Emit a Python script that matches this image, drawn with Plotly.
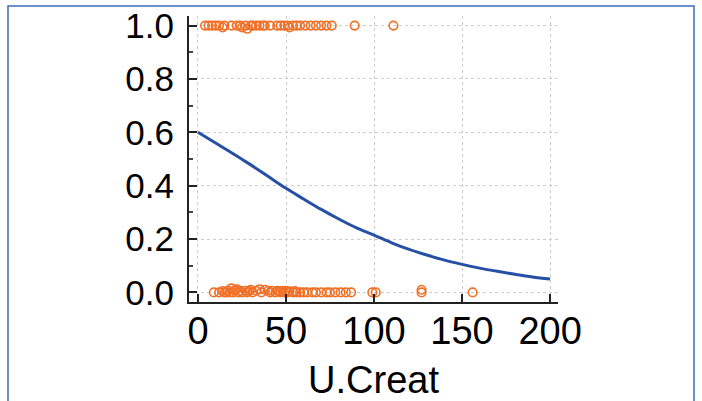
import plotly.graph_objects as go

# Fitted logistic curve
curve_x = [0, 10, 20, 30, 40, 50, 60, 70, 80, 90, 100, 110, 120, 130, 140, 150, 160, 170, 180, 190, 200]
curve_y = [0.600, 0.560, 0.520, 0.478, 0.434, 0.390, 0.350, 0.311, 0.275, 0.242, 0.215, 0.186, 0.161, 0.140, 0.121, 0.105, 0.091, 0.079, 0.068, 0.058, 0.050]

# Observed cases (outcome = 1)
pos_x = [4, 6, 8, 10, 12, 14, 15, 19, 22, 24, 25, 27, 28, 30, 31, 33, 35, 37, 38, 41,
         45, 47, 49, 51, 52, 54, 56, 58, 61, 64, 67, 70, 73, 76, 89, 111]
pos_y = [1, 1, 1, 1, 1, 0.993, 1, 1, 1, 1, 0.993, 1, 0.988, 1, 1, 1, 1, 1, 1, 1,
         1, 1, 1, 1, 0.993, 1, 1, 1, 1, 1, 1, 1, 1, 1, 1, 1]

# Observed controls (outcome = 0)
neg_x = [9, 12, 14, 15, 16, 17, 18, 19, 20, 21, 22, 23, 24, 25, 27, 28, 29, 30, 31, 33,
         35, 36, 38, 40, 41, 42, 44, 45, 46, 47, 48, 49, 50, 51, 52, 54, 55, 56, 58, 60,
         62, 65, 67, 70, 73, 75, 78, 81, 84, 87, 99, 101, 127, 127, 156]
neg_y = [0, 0, 0.005, 0, 0, 0.007, 0, 0.015, 0, 0.007, 0.012, 0, 0.006, 0, 0.006, 0, 0.005, 0.01, 0, 0.006,
         0.012, 0, 0.01, 0.006, 0, 0.006, 0, 0.006, 0.004, 0, 0.006, 0, 0.006, 0, 0.004, 0, 0.005, 0, 0, 0,
         0, 0, 0, 0, 0, 0, 0, 0, 0, 0, 0, 0, 0, 0.01, 0]

x_ticks = [0, 50, 100, 150, 200]
y_ticks = [0.0, 0.2, 0.4, 0.6, 0.8, 1.0]
y_tick_text = ["0.0", "0.2", "0.4", "0.6", "0.8", "1.0"]

orange = "#f07028"
blue = "#2550a5"
font_family = "Liberation Sans, Arial, sans-serif"

fig = go.Figure()
fig.add_trace(go.Scatter(x=pos_x + neg_x, y=pos_y + neg_y, mode="markers",
                         marker=dict(symbol="circle-open", size=8.5, color=orange,
                                     line=dict(width=1.6, color=orange)),
                         showlegend=False, hoverinfo="skip"))
fig.add_trace(go.Scatter(x=curve_x, y=curve_y, mode="lines",
                         line=dict(color=blue, width=3, shape="spline"),
                         showlegend=False, hoverinfo="skip"))

L, R, T, B = 189, 558, 16, 302
W, H = 702, 401

fig.update_layout(
    width=W, height=H,
    margin=dict(l=L, r=W - R, t=T, b=H - B, pad=0, autoexpand=False),
    paper_bgcolor="white", plot_bgcolor="white",
    font=dict(family=font_family, color="black"),
    xaxis=dict(range=[-5.1, 204.5], tickvals=x_ticks, ticks="inside", ticklen=8, tickwidth=1.5,
               tickcolor="#222", showline=True, linecolor="#222", linewidth=2,
               showgrid=True, gridcolor="#cccccc", griddash="dot", gridwidth=1,
               zeroline=False, tickfont=dict(size=38, family=font_family),
               ticklabelstandoff=-6, automargin=False,
               title=dict(text="U.Creat", font=dict(size=38, family=font_family), standoff=16)),
    yaxis=dict(range=[-0.036, 1.036], tickvals=y_ticks, ticktext=y_tick_text, ticks="inside",
               ticklen=8, tickwidth=1.5, tickcolor="#222", showline=True, linecolor="#222", linewidth=2,
               showgrid=True, gridcolor="#cccccc", griddash="dot", gridwidth=1,
               zeroline=False, tickfont=dict(size=35, family=font_family),
               ticklabelstandoff=6, automargin=False,
               minor=dict(dtick=0.1, ticks="inside", ticklen=4, tickcolor="#444", showgrid=False)),
)

# outer blue frame
pw, ph = R - L, B - T
fig.add_shape(type="rect", xref="paper", yref="paper",
              x0=(8 - L) / pw, x1=(694 - L) / pw,
              y0=(B - 420) / ph, y1=(B - 6) / ph,
              line=dict(color="#3d6cc0", width=1.5), fillcolor="rgba(0,0,0,0)", layer="below")

fig.write_html("out.html")
